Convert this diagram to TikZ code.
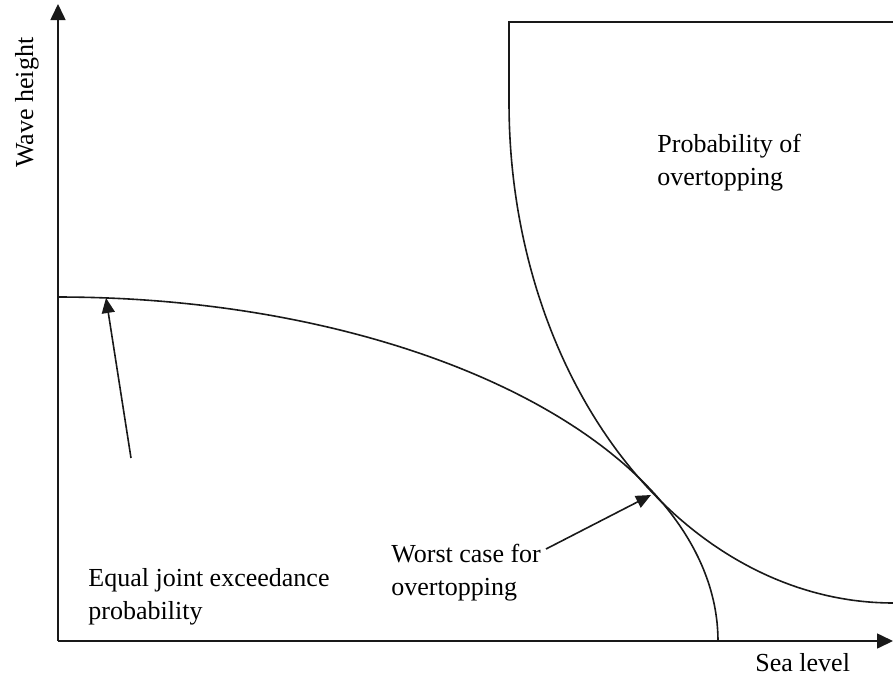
\documentclass[tikz,border=0pt]{standalone}
\usepackage{fontspec}
\setmainfont{Liberation Serif}
\usetikzlibrary{arrows.meta}
\begin{document}
\begin{tikzpicture}[x=0.5pt,y=-0.5pt,
  line/.style={line width=0.8pt,draw=black!90},
  tip/.style={-{Triangle[length=8pt,width=7.5pt]}},
  smalltip/.style={-{Triangle[length=7.5pt,width=6.5pt]}},
  lbl/.style={font=\fontsize{13}{16.5}\selectfont,inner sep=0pt,anchor=base west}]
\useasboundingbox (0,0) rectangle (893,680);

% axes
\coordinate (O) at (58,641);
\coordinate (ytop) at (58,4);
\coordinate (xend) at (893,641);
\draw[line,tip] (O) -- (ytop);
\draw[line,tip] (O) -- (xend);

% overtopping region boundary: top edge, short vertical, then quarter ellipse
\draw[line] (893,22) -- (509,22) -- (509,103);
\draw[line] plot[domain=180:270,samples=120]
  ({893+384*cos(\x)},{103-500*sin(\x)});

% equal joint exceedance contour: quarter ellipse
\draw[line] plot[domain=0:90,samples=120]
  ({58+660*cos(\x)},{641-344*sin(\x)});

% labels
\node[lbl] (eq1) at (88,586) {Equal joint exceedance};
\node[lbl] (eq2) at (88,619) {probability};
\node[lbl] (wc1) at (391,562) {Worst case for};
\node[lbl] (wc2) at (391,595) {overtopping};
\node[lbl] (po1) at (657,152) {Probability of};
\node[lbl] (po2) at (657,185) {overtopping};
\node[lbl] (sea) at (755,671) {Sea level};
\node[lbl,rotate=90] (wave) at (33,168) {Wave height};

% pointers
\coordinate (eqtail) at (131,458);
\coordinate (eqtip) at (106,298);
\coordinate (wctail) at (546,549);
\coordinate (wctip) at (651,495);
\draw[line,smalltip] (eqtail) -- (eqtip);
\draw[line,smalltip] (wctail) -- (wctip);
\end{tikzpicture}
\end{document}
